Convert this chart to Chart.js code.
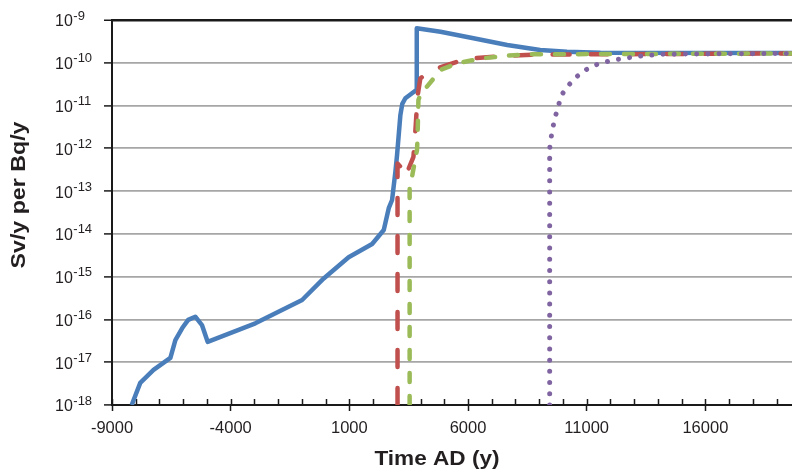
<!DOCTYPE html>
<html>
<head>
<meta charset="utf-8">
<script src="https://cdn.jsdelivr.net/npm/chart.js@4.4.0/dist/chart.umd.min.js"></script>
<style>
body { margin: 0; background: #fff; }
#wrap { width: 792px; height: 471px; }
</style>
</head>
<body>
<div id="wrap"><canvas id="chart-area"></canvas></div>
<script>
// values: time AD (y) and dose (Sv/y per Bq/y)
var blueX = [-8170, -7810, -7250, -6540, -6330, -6040, -5790, -5490, -5210, -4970, -2960, -990, -80, 970, 1960, 2450, 2660, 2800, 2940, 3010, 3150, 3230, 3360, 3640, 3820, 3840, 4840, 6230, 7650, 9040, 10170, 11580, 19650];
var blueY = [1e-18, 3.3e-18, 6.6e-18, 1.26e-17, 3.3e-17, 6.3e-17, 9.8e-17, 1.16e-16, 7.4e-17, 3.0e-17, 8.1e-17, 2.85e-16, 9.1e-16, 2.84e-15, 5.8e-15, 1.23e-14, 4.0e-14, 6.2e-14, 2.85e-13, 7.0e-13, 6.0e-12, 1.1e-11, 1.48e-11, 1.94e-11, 2.3e-11, 6.4e-10, 5.3e-10, 3.73e-10, 2.6e-10, 2.0e-10, 1.82e-10, 1.72e-10, 1.7e-10];

var redX = [3030, 3030, 3220, 3360, 3700, 3790, 3870, 3990, 4330, 4700, 5540, 6230, 7650, 9040, 19650];
var redY = [1e-18, 4.4e-13, 3.4e-13, 2.17e-13, 6.3e-13, 3e-12, 1.6e-11, 4.3e-11, 6.1e-11, 7.4e-11, 1.06e-10, 1.27e-10, 1.46e-10, 1.56e-10, 1.65e-10];

var greenX = [3540, 3540, 3640, 3850, 3870, 3910, 4030, 4270, 4840, 5540, 6570, 7650, 8490, 19650];
var greenY = [1e-18, 1.27e-13, 2.17e-13, 9.1e-13, 1.57e-12, 1.35e-11, 2.07e-11, 2.76e-11, 6.8e-11, 9.7e-11, 1.27e-10, 1.46e-10, 1.58e-10, 1.65e-10];

var purpleX = [9440, 9440, 9500, 9580, 9690, 9820, 9960, 10240, 10570, 10950, 11370, 11830, 12280, 12770, 13260, 14180, 15080, 19650];
var purpleY = [1e-18, 9.8e-13, 1.77e-12, 3.2e-12, 5.8e-12, 1.05e-11, 1.83e-11, 3.0e-11, 4.7e-11, 6.8e-11, 8.9e-11, 1.06e-10, 1.2e-10, 1.31e-10, 1.44e-10, 1.58e-10, 1.6e-10, 1.65e-10];

// axis ticks
var xTicks = [];
for (var t = -9000; t <= 19000; t += 1000) xTicks.push(t);
var xLabels = [-9000, -4000, 1000, 6000, 11000, 16000];
var yExps = [-18, -17, -16, -15, -14, -13, -12, -11, -10, -9];

function pts(xs, ys) {
	return xs.map(function(x, i) { return {x: x, y: ys[i]}; });
}

var extras = {
	id: 'extras',
	beforeDatasetsDraw: function(chart) {
		var ctx = chart.ctx, xs = chart.scales.x, b = chart.chartArea.bottom;
		ctx.save();
		ctx.strokeStyle = '#1a1a1a';
		ctx.lineWidth = 1.5;
		xTicks.forEach(function(v) {
			var px = Math.round(xs.getPixelForValue(v)) + 0.5;
			ctx.beginPath();
			ctx.moveTo(px, b);
			ctx.lineTo(px, b - 6);
			ctx.stroke();
		});
		ctx.restore();
	},
	afterDraw: function(chart) {
		var ctx = chart.ctx, ys = chart.scales.y;
		ctx.save();
		ctx.fillStyle = '#231f20';
		ctx.textAlign = 'left';
		ctx.textBaseline = 'middle';
		yExps.forEach(function(e) {
			var py = ys.getPixelForValue(Math.pow(10, e));
			ctx.font = '16px "Liberation Sans", Arial, sans-serif';
			ctx.fillText('10', 55, py + 2);
			var w = ctx.measureText('10').width;
			ctx.font = '13px "Liberation Sans", Arial, sans-serif';
			ctx.fillText('-' + Math.abs(e), 55 + w + 0.5, py - 4);
		});
		ctx.font = 'bold 20px "Liberation Sans", Arial, sans-serif';
		ctx.textAlign = 'center';
		ctx.save();
		ctx.translate(437, 459);
		ctx.scale(1.13, 1);
		ctx.fillText('Time AD (y)', 0, 0);
		ctx.restore();
		ctx.translate(19, 195);
		ctx.rotate(-Math.PI / 2);
		ctx.scale(1.16, 1);
		ctx.fillText('Sv/y per Bq/y', 0, 0);
		ctx.restore();
	}
};

var config = {
	type: 'line',
	data: {
		datasets: [
			{ data: pts(blueX, blueY), borderColor: '#4a7ebb', borderWidth: 4.5, order: 4 },
			{ data: pts(redX, redY), borderColor: '#c0504d', borderWidth: 4.5, borderDash: [17, 21], borderCapStyle: 'round', order: 3 },
			{ data: pts(greenX, greenY), borderColor: '#9bbb59', borderWidth: 4.5, borderDash: [9, 14], borderCapStyle: 'round', order: 2 },
			{ data: pts(purpleX, purpleY), borderColor: '#8064a2', borderWidth: 5, borderDash: [0.01, 11.2], borderCapStyle: 'round', order: 1 }
		]
	},
	options: {
		responsive: true,
		maintainAspectRatio: false,
		animation: false,
		elements: { point: { radius: 0 }, line: { tension: 0, borderJoinStyle: 'round' } },
		layout: { padding: { top: 20, left: 0, right: 0, bottom: 0 } },
		plugins: { legend: { display: false }, tooltip: { enabled: false } },
		scales: {
			x: {
				type: 'linear',
				min: -9000,
				max: 19650,
				afterBuildTicks: function(scale) {
					scale.ticks = xTicks.map(function(v) { return {value: v}; });
				},
				afterFit: function(scale) { scale.height = 66; },
				ticks: {
					autoSkip: false,
					maxRotation: 0,
					padding: 8,
					color: '#231f20',
					font: { size: 16.5, family: '"Liberation Sans", Arial, sans-serif' },
					callback: function(v) { return xLabels.indexOf(v) >= 0 ? String(v) : ''; }
				},
				grid: {
					drawOnChartArea: false,
					tickLength: 6,
					tickWidth: 1.5,
					tickColor: function(c) { return c.tick && xLabels.indexOf(c.tick.value) >= 0 ? '#1a1a1a' : 'rgba(0,0,0,0)'; }
				},
				border: { color: '#1a1a1a', width: 2 }
			},
			y: {
				type: 'logarithmic',
				min: 1e-18,
				max: 1e-9,
				afterBuildTicks: function(scale) {
					scale.ticks = yExps.map(function(e) { return {value: Math.pow(10, e)}; });
				},
				afterFit: function(scale) { scale.width = 112; },
				ticks: { display: false },
				grid: {
					color: function(c) { return c.tick && c.tick.value > 5e-10 ? '#1a1a1a' : '#a6a6a6'; },
					lineWidth: function(c) { return c.tick && c.tick.value > 5e-10 ? 2.5 : 1.8; },
					tickLength: 8,
					tickColor: '#1a1a1a',
					tickWidth: 1.5
				},
				border: { color: '#1a1a1a', width: 2 }
			}
		}
	},
	plugins: [extras]
};

var ctx = document.getElementById('chart-area').getContext('2d');
window.myLine = new Chart(ctx, config);
</script>
</body>
</html>
